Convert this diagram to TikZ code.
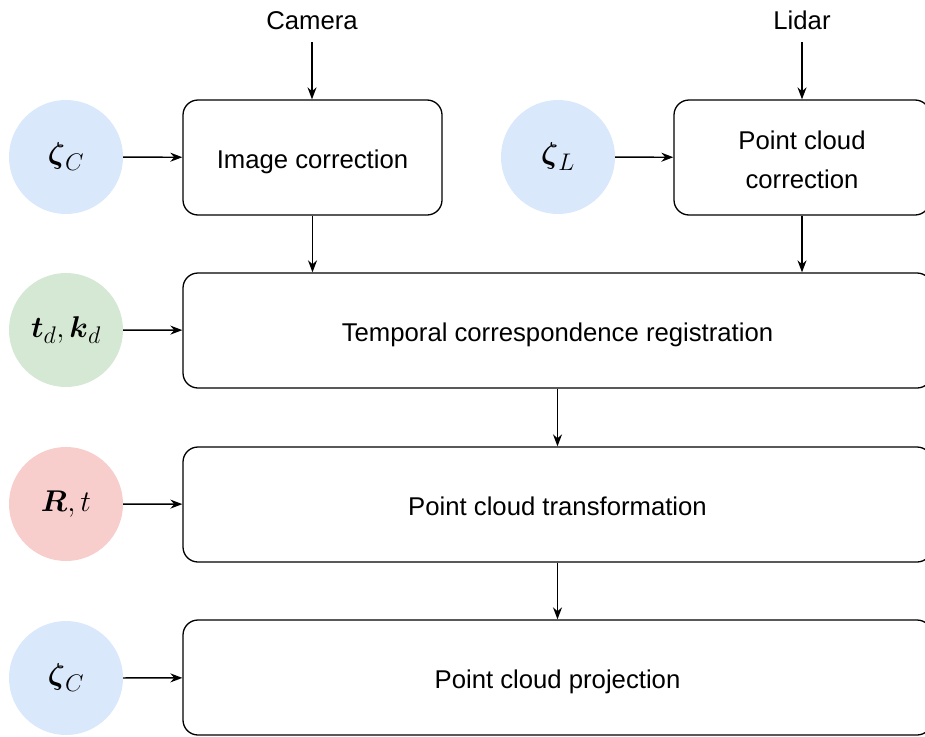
\RequirePackage{fix-cm}
\documentclass[tikz,border=0pt]{standalone}
\usepackage{amsmath}
\usepackage{amssymb}
\usepackage{fontspec}
\setmainfont{Liberation Sans}
\usetikzlibrary{arrows.meta}

\definecolor{paramblue}{HTML}{DAE8FC}
\definecolor{paramgreen}{HTML}{D5E8D4}
\definecolor{paramred}{HTML}{F8CECC}

% slightly larger subscripts in the circles
\DeclareMathSizes{30}{30}{24}{18}

% text in the blocks sits a bit below the middle
\newcommand{\lowered}[2][10.8pt]{\raisebox{-#1}[0pt][0pt]{#2}}

\begin{document}
\begin{tikzpicture}[x=1pt,y=-1pt,
    box/.style={draw, line width=1.3pt, rounded corners=15pt, minimum height=115pt,
        align=center, font=\fontsize{25.7}{39}\selectfont},
    param/.style={circle, minimum size=114pt, inner sep=0pt, font=\fontsize{30}{36}\selectfont},
    sensor/.style={inner sep=0pt, anchor=base, font=\fontsize{25.7}{31}\selectfont},
    arr/.style={-{Stealth[length=12pt,width=9pt]}, line width=1.4pt}]
    \useasboundingbox (0,0) rectangle (925,736);

    % Sensors
    \node[sensor] (camera) at (312,29) {Camera};
    \node[sensor] (lidar) at (802,29) {Lidar};

    % Processing blocks
    \node[box, minimum width=259pt] (imgcorr) at (312.5,157.5) {\lowered{Image correction}};
    \node[box, minimum width=256pt] (pccorr) at (802,157.5)
        {\lowered[11.3pt]{Point cloud}\\\lowered[11.3pt]{correction}};
    \node[box, minimum width=749pt] (tcreg) at (557.5,330.5) {\lowered{Temporal correspondence registration}};
    \node[box, minimum width=749pt] (pctrans) at (557.5,504.5) {\lowered{Point cloud transformation}};
    \node[box, minimum width=749pt] (pcproj) at (557.5,677.5) {\lowered{Point cloud projection}};

    % Parameters
    \node[param, fill=paramblue] (zetac) at (66,157) {$\boldsymbol{\zeta}_C$};
    \node[param, fill=paramblue] (zetal) at (558,157) {$\boldsymbol{\zeta}_L$};
    \node[param, fill=paramgreen] (tdkd) at (66,330) {$\boldsymbol{t}_d, \boldsymbol{k}_d$};
    \node[param, fill=paramred] (rott) at (66,504) {$\boldsymbol{R}, t$};
    \node[param, fill=paramblue] (zetacp) at (66,678) {$\boldsymbol{\zeta}_C$};

    % Inputs
    \draw[arr, shorten <=13pt] (camera.south) -- (camera.south |- imgcorr.north);
    \draw[arr, shorten <=13pt] (lidar.south) -- (lidar.south |- pccorr.north);
    \draw[arr] (zetac) -- (imgcorr);
    \draw[arr] (zetal) -- (pccorr);
    \draw[arr] (tdkd) -- (tcreg);
    \draw[arr] (rott) -- (pctrans);
    \draw[arr] (zetacp) -- (pcproj);

    % Flow
    \draw[arr] (imgcorr.south) -- (imgcorr.south |- tcreg.north);
    \draw[arr] (pccorr.south) -- (pccorr.south |- tcreg.north);
    \draw[arr] (tcreg.south) -- (pctrans.north);
    \draw[arr] (pctrans.south) -- (pcproj.north);
\end{tikzpicture}
\end{document}
